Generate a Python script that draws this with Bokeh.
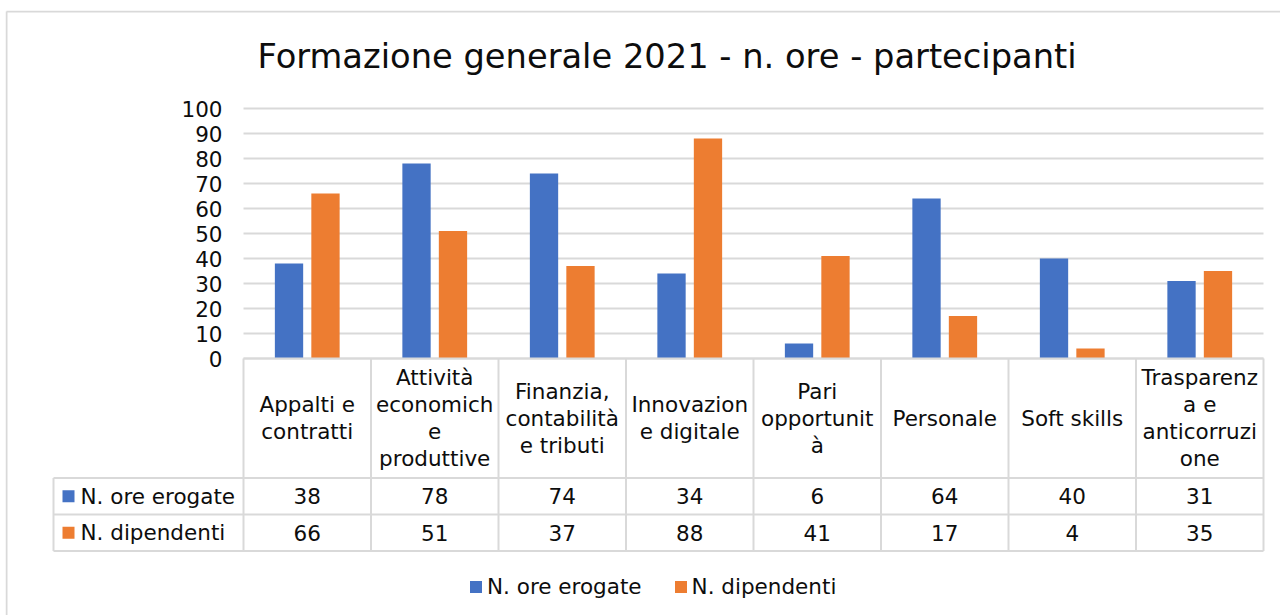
from bokeh.plotting import figure
from bokeh.models import (Range1d, FixedTicker, Legend, LegendItem, ColumnDataSource)
from bokeh.transform import dodge
from bokeh.core.properties import value
from bokeh.embed import file_html
from bokeh.resources import INLINE

# ---------------- data ----------------
title_text = "Formazione generale 2021 - n. ore - partecipanti"
categories = ["Appalti e\ncontratti",
              "Attività\neconomich\ne\nproduttive",
              "Finanzia,\ncontabilità\ne tributi",
              "Innovazion\ne digitale",
              "Pari\nopportunit\nà",
              "Personale",
              "Soft skills",
              "Trasparenz\na e\nanticorruzi\none"]
ore_erogate = [38, 78, 74, 34, 6, 64, 40, 31]
dipendenti = [66, 51, 37, 88, 41, 17, 4, 35]
series_names = ["N. ore erogate", "N. dipendenti"]
series_colors = ["#4472C4", "#ED7D31"]
y_ticks = [0, 10, 20, 30, 40, 50, 60, 70, 80, 90, 100]

# ---------------- layout (page pixels) ----------------
W, H = 1280, 615
FRAME_L, FRAME_T = 5, 10          # frame covers the whole chart area
X0_PX, CATW = 243, 127.5          # left edge of first category, px per category
Y0_PX, PXU = 358, 2.5             # pixel row of value 0, px per unit


def xd(px):
    return (px - X0_PX) / CATW


def yd(py):
    return (Y0_PX - py) / PXU


FONT = "DejaVu Sans"
FS = "21.5px"
TXT = "#0d0d0d"
GRID = "#d9d9d9"

HEAD_BOTTOM = yd(477.5)
ROW1_BOTTOM = yd(514)
ROW2_BOTTOM = yd(550.5)
LEFT = xd(53)

ncat = len(categories)
xpos = [i + 0.5 for i in range(ncat)]
src = ColumnDataSource(dict(
    x=xpos,
    cat=categories,
    ore=ore_erogate,
    dip=dipendenti,
    ore_txt=[str(v) for v in ore_erogate],
    dip_txt=[str(v) for v in dipendenti],
))

p = figure(width=W, height=H,
           x_range=Range1d(xd(FRAME_L), xd(W)),
           y_range=Range1d(yd(H), yd(FRAME_T)),
           x_axis_location=None,
           output_backend="svg", toolbar_location=None,
           min_border_left=FRAME_L, min_border_right=0,
           min_border_top=FRAME_T, min_border_bottom=0)
p.outline_line_color = None

p.title.text = title_text
p.title.text_font = FONT
p.title.text_font_size = "33.7px"
p.title.text_font_style = "normal"
p.title.text_color = TXT
p.title.align = "left"
p.title.offset = 252
p.title.standoff = -130

p.yaxis.ticker = FixedTicker(ticks=y_ticks)
p.yaxis.axis_line_color = None
p.yaxis.major_tick_line_color = None
p.yaxis.minor_tick_line_color = None
p.yaxis.major_tick_out = 0
p.yaxis.major_label_text_font = FONT
p.yaxis.major_label_text_font_size = FS
p.yaxis.major_label_text_color = TXT
p.yaxis.major_label_standoff = -(222 - FRAME_L)
p.ygrid.ticker = FixedTicker(ticks=y_ticks)
p.ygrid.grid_line_color = GRID
p.ygrid.grid_line_width = 2
p.ygrid.cross_bounds = (0, ncat)
p.xgrid.grid_line_color = None

# outer chart border (top and left edges visible)
p.segment(x0=[xd(6), xd(6)], y0=[yd(11), yd(11)], x1=[xd(W), xd(6)], y1=[yd(11), yd(H)],
          line_color=GRID, line_width=2)

# bars
r1 = p.vbar(x=dodge("x", -0.143), top="ore", width=0.222, source=src,
            fill_color=series_colors[0], line_color=None)
r2 = p.vbar(x=dodge("x", 0.143), top="dip", width=0.222, source=src,
            fill_color=series_colors[1], line_color=None)

# data table grid
bounds = list(range(ncat + 1))
p.segment(x0=bounds, y0=[0] * len(bounds), x1=bounds, y1=[ROW2_BOTTOM] * len(bounds),
          line_color=GRID, line_width=2)
p.segment(x0=[0, LEFT, LEFT, LEFT, LEFT], y0=[0, HEAD_BOTTOM, ROW1_BOTTOM, ROW2_BOTTOM, HEAD_BOTTOM],
          x1=[ncat, ncat, ncat, ncat, LEFT], y1=[0, HEAD_BOTTOM, ROW1_BOTTOM, ROW2_BOTTOM, ROW2_BOTTOM],
          line_color=GRID, line_width=2)

head_c = HEAD_BOTTOM / 2
row1_c = (HEAD_BOTTOM + ROW1_BOTTOM) / 2
row2_c = (ROW1_BOTTOM + ROW2_BOTTOM) / 2
common = dict(text_font=value(FONT), text_font_size=FS, text_color=TXT,
              text_baseline="middle")
p.text(x="x", y=head_c, text="cat", source=src, text_align="center",
       text_line_height=1.08, **common)
p.text(x="x", y=row1_c, text="ore_txt", source=src, text_align="center", **common)
p.text(x="x", y=row2_c, text="dip_txt", source=src, text_align="center", **common)

# left column of the data table: legend keys and series names
key_src = ColumnDataSource(dict(
    x=[xd(68)] * 2, tx=[xd(80)] * 2, y=[row1_c, row2_c],
    name=series_names, color=series_colors))
p.rect(x="x", y="y", width=12, height=12, width_units="screen", height_units="screen",
       fill_color="color", line_color=None, source=key_src)
p.text(x="tx", y="y", text="name", source=key_src, text_align="left", **common)

# bottom legend
legend = Legend(items=[LegendItem(label=series_names[0], renderers=[r1]),
                       LegendItem(label=series_names[1], renderers=[r2])],
                orientation="horizontal", location=(468 - FRAME_L, 16),
                label_text_font=FONT, label_text_font_size=FS, label_text_color=TXT,
                glyph_width=15, glyph_height=15, label_standoff=4, spacing=31,
                border_line_color=None, background_fill_alpha=0,
                padding=0, margin=0)
p.add_layout(legend, "center")

open("out.html", "w").write(file_html(p, INLINE))
